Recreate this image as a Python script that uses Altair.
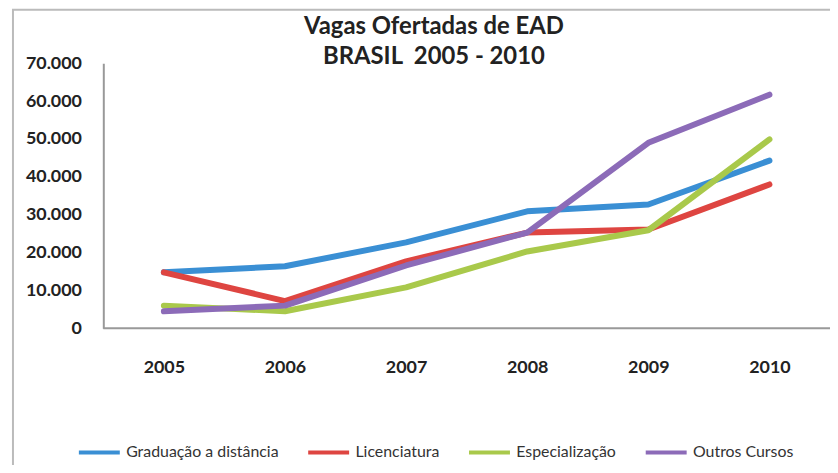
import altair as alt
import pandas as pd

years = ["2005", "2006", "2007", "2008", "2009", "2010"]
series = ["Graduação a distância", "Licenciatura", "Especialização", "Outros Cursos"]
graduacao = [14800, 16400, 22700, 30900, 32700, 44300]
licenciatura = [14800, 7200, 17700, 25300, 26100, 38000]
especializacao = [6000, 4500, 10800, 20300, 25900, 49900]
outros = [4500, 6000, 16600, 25300, 49000, 61700]
colors = ["#3A8FD4", "#DE4541", "#A9C94B", "#8C6BB8"]
y_ticks = [0, 10000, 20000, 30000, 40000, 50000, 60000, 70000]

rows = []
for name, vals in zip(series, [graduacao, licenciatura, especializacao, outros]):
    for yr, v in zip(years, vals):
        rows.append({"Ano": yr, "Série": name, "Vagas": v})
df = pd.DataFrame(rows)

font = "Lato"

frame = alt.Chart(pd.DataFrame({"a": [0]})).mark_rect(
    fill=None, stroke="#BBBBBB", strokeWidth=2, clip=False
).encode(
    x=alt.value(-91), x2=alt.value(900), y=alt.value(-54), y2=alt.value(430)
)

lines = alt.Chart(df).mark_line(strokeWidth=6, strokeCap="round", strokeJoin="round").encode(
    x=alt.X("Ano:O", sort=years, scale=alt.Scale(type="point", padding=0.5),
            axis=alt.Axis(title=None, labelAngle=0, ticks=False, domain=False,
                          labelPadding=30, labelFontSize=18, labelFontWeight="bold",
                          labelFont=font, labelColor="#222222")),
    y=alt.Y("Vagas:Q", scale=alt.Scale(domain=[0, 70000]),
            axis=alt.Axis(title=None, values=y_ticks, ticks=False, grid=False,
                          domainColor="#999999", domainWidth=2,
                          labelExpr="replace(format(datum.value, ',d'), ',', '.')",
                          labelPadding=22, labelFontSize=18, labelFontWeight="bold",
                          labelFont=font, labelColor="#222222")),
    color=alt.Color("Série:N", sort=series,
                    scale=alt.Scale(domain=series, range=colors),
                    legend=alt.Legend(title=None, orient="none", direction="horizontal",
                                      legendX=-27, legendY=369,
                                      symbolType="stroke", symbolSize=1700,
                                      symbolStrokeWidth=4, labelFontSize=16,
                                      labelFont=font, labelColor="#333333",
                                      labelOffset=4, columnPadding=21)),
)

xaxis_line = alt.Chart(pd.DataFrame({"a": [0]})).mark_rule(
    color="#999999", strokeWidth=2, clip=False
).encode(x=alt.value(0), x2=alt.value(900), y=alt.value(267))

chart = alt.layer(frame, lines, xaxis_line).properties(
    width=732, height=267,
    title=alt.TitleParams(["Vagas Ofertadas de EAD", "BRASIL\u00a0 2005 - 2010"],
                          font=font, fontSize=24, fontWeight="bold", color="#222222",
                          anchor="middle", lineHeight=30, offset=0, dy=61, dx=-33),
    autosize=alt.AutoSizeParams(type="none"),
    padding={"left": 96, "top": 54, "right": 0, "bottom": 136},
).configure(background="white").configure_view(stroke="transparent", strokeWidth=0)

chart.save("out.html", embed_options={"renderer": "svg", "actions": False})
